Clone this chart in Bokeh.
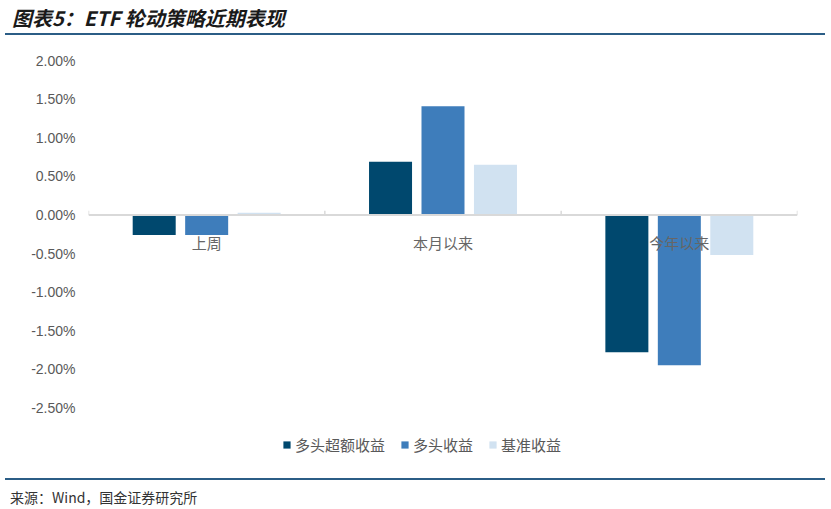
from bokeh.plotting import figure
from bokeh.models import (ColumnDataSource, FactorRange, Legend, LegendItem, Div,
                          FixedTicker, CustomJSTickFormatter, Span)
from bokeh.transform import dodge
from bokeh.layouts import column
from bokeh.embed import file_html
from bokeh.resources import INLINE

# data (percent)
periods = ["上周", "本月以来", "今年以来"]
excess_ret = [-0.26, 0.69, -1.78]
long_ret = [-0.26, 1.41, -1.95]
bench_ret = [0.03, 0.65, -0.52]
series_names = ["多头超额收益", "多头收益", "基准收益"]
y_ticks = [2.0, 1.5, 1.0, 0.5, 0.0, -0.5, -1.0, -1.5, -2.0, -2.5]

colors = ["#00486e", "#3e7dbb", "#d1e2f1"]
grey_txt = "#595959"
rule_col = "#2b5d86"

src = ColumnDataSource(dict(period=periods, excess=excess_ret, long=long_ret, bench=bench_ret))

p = figure(x_range=FactorRange(*periods, range_padding=0), y_range=(-3.314, 2.198),
           width=825, height=443, output_backend="svg", toolbar_location=None,
           x_axis_location=None, margin=(0, 0, 0, 0),
           min_border_left=88, min_border_right=28, min_border_top=10, min_border_bottom=8)
p.outline_line_color = None
p.xgrid.grid_line_color = None
p.ygrid.grid_line_color = None

# y axis
p.yaxis.ticker = FixedTicker(ticks=y_ticks)
p.yaxis.formatter = CustomJSTickFormatter(code="return tick.toFixed(2) + '%';")
p.yaxis.axis_line_color = None
p.yaxis.major_tick_line_color = None
p.yaxis.minor_tick_line_color = None
p.yaxis.major_tick_out = 0
p.yaxis.major_tick_in = 0
p.yaxis.major_label_standoff = 13
p.yaxis.major_label_text_font = "Liberation Sans"
p.yaxis.major_label_text_font_size = "14px"
p.yaxis.major_label_text_color = grey_txt

# zero line and category boundary ticks
p.add_layout(Span(location=0, dimension="width", line_color="#d9d9d9", line_width=2))
edge_src = ColumnDataSource(dict(period=periods))
last_src = ColumnDataSource(dict(period=periods[-1:]))
p.segment(x0=dodge("period", -0.5, range=p.x_range), x1=dodge("period", -0.5, range=p.x_range),
          y0=0, y1=0.055, line_color="#d9d9d9", line_width=1.5, source=edge_src)
p.segment(x0=dodge("period", 0.5, range=p.x_range), x1=dodge("period", 0.5, range=p.x_range),
          y0=0, y1=0.055, line_color="#d9d9d9", line_width=1.5, source=last_src)

# bars
bw = 0.182
r1 = p.vbar(x=dodge("period", -0.222, range=p.x_range), top="excess", width=bw,
            fill_color=colors[0], line_color=None, source=src)
r2 = p.vbar(x=dodge("period", 0.0, range=p.x_range), top="long", width=bw,
            fill_color=colors[1], line_color=None, source=src)
r3 = p.vbar(x=dodge("period", 0.222, range=p.x_range), top="bench", width=bw,
            fill_color=colors[2], line_color=None, source=src)

# category labels sitting just under the zero line
p.text(x="period", y=0, text="period", source=edge_src, y_offset=17,
       text_align="center", text_baseline="top", text_font_size="15px",
       text_color="#666666", text_font={"value": "Noto Sans CJK SC"})

legend = Legend(items=[LegendItem(label=series_names[0], renderers=[r1]),
                       LegendItem(label=series_names[1], renderers=[r2]),
                       LegendItem(label=series_names[2], renderers=[r3])],
                orientation="horizontal", location=(194, 15),
                padding=0, margin=0, spacing=15, glyph_width=9, glyph_height=9,
                label_standoff=4, label_height=18,
                label_text_font="Noto Sans CJK SC", label_text_font_size="15px",
                label_text_color=grey_txt, border_line_color=None, background_fill_alpha=0)
p.add_layout(legend)

title = Div(text="图表5：ETF 轮动策略近期表现", width=820, height=35, margin=(0, 0, 0, 5),
            styles={"font-family": "Noto Sans CJK SC", "font-size": "20px", "font-weight": "bold",
                    "font-style": "italic", "color": "#1a1a1a", "line-height": "36px",
                    "padding-left": "7px", "border-bottom": "2px solid " + rule_col})
source = Div(text="来源：Wind，国金证券研究所", width=820, height=29, margin=(0, 0, 0, 5),
             styles={"font-family": "Noto Sans CJK SC", "font-size": "14px", "color": "#333333",
                     "line-height": "14px", "padding-top": "10px", "padding-left": "5px",
                     "border-top": "2px solid " + rule_col})

page = column(title, p, source, spacing=0)
open("out.html", "w").write(file_html(page, INLINE))
